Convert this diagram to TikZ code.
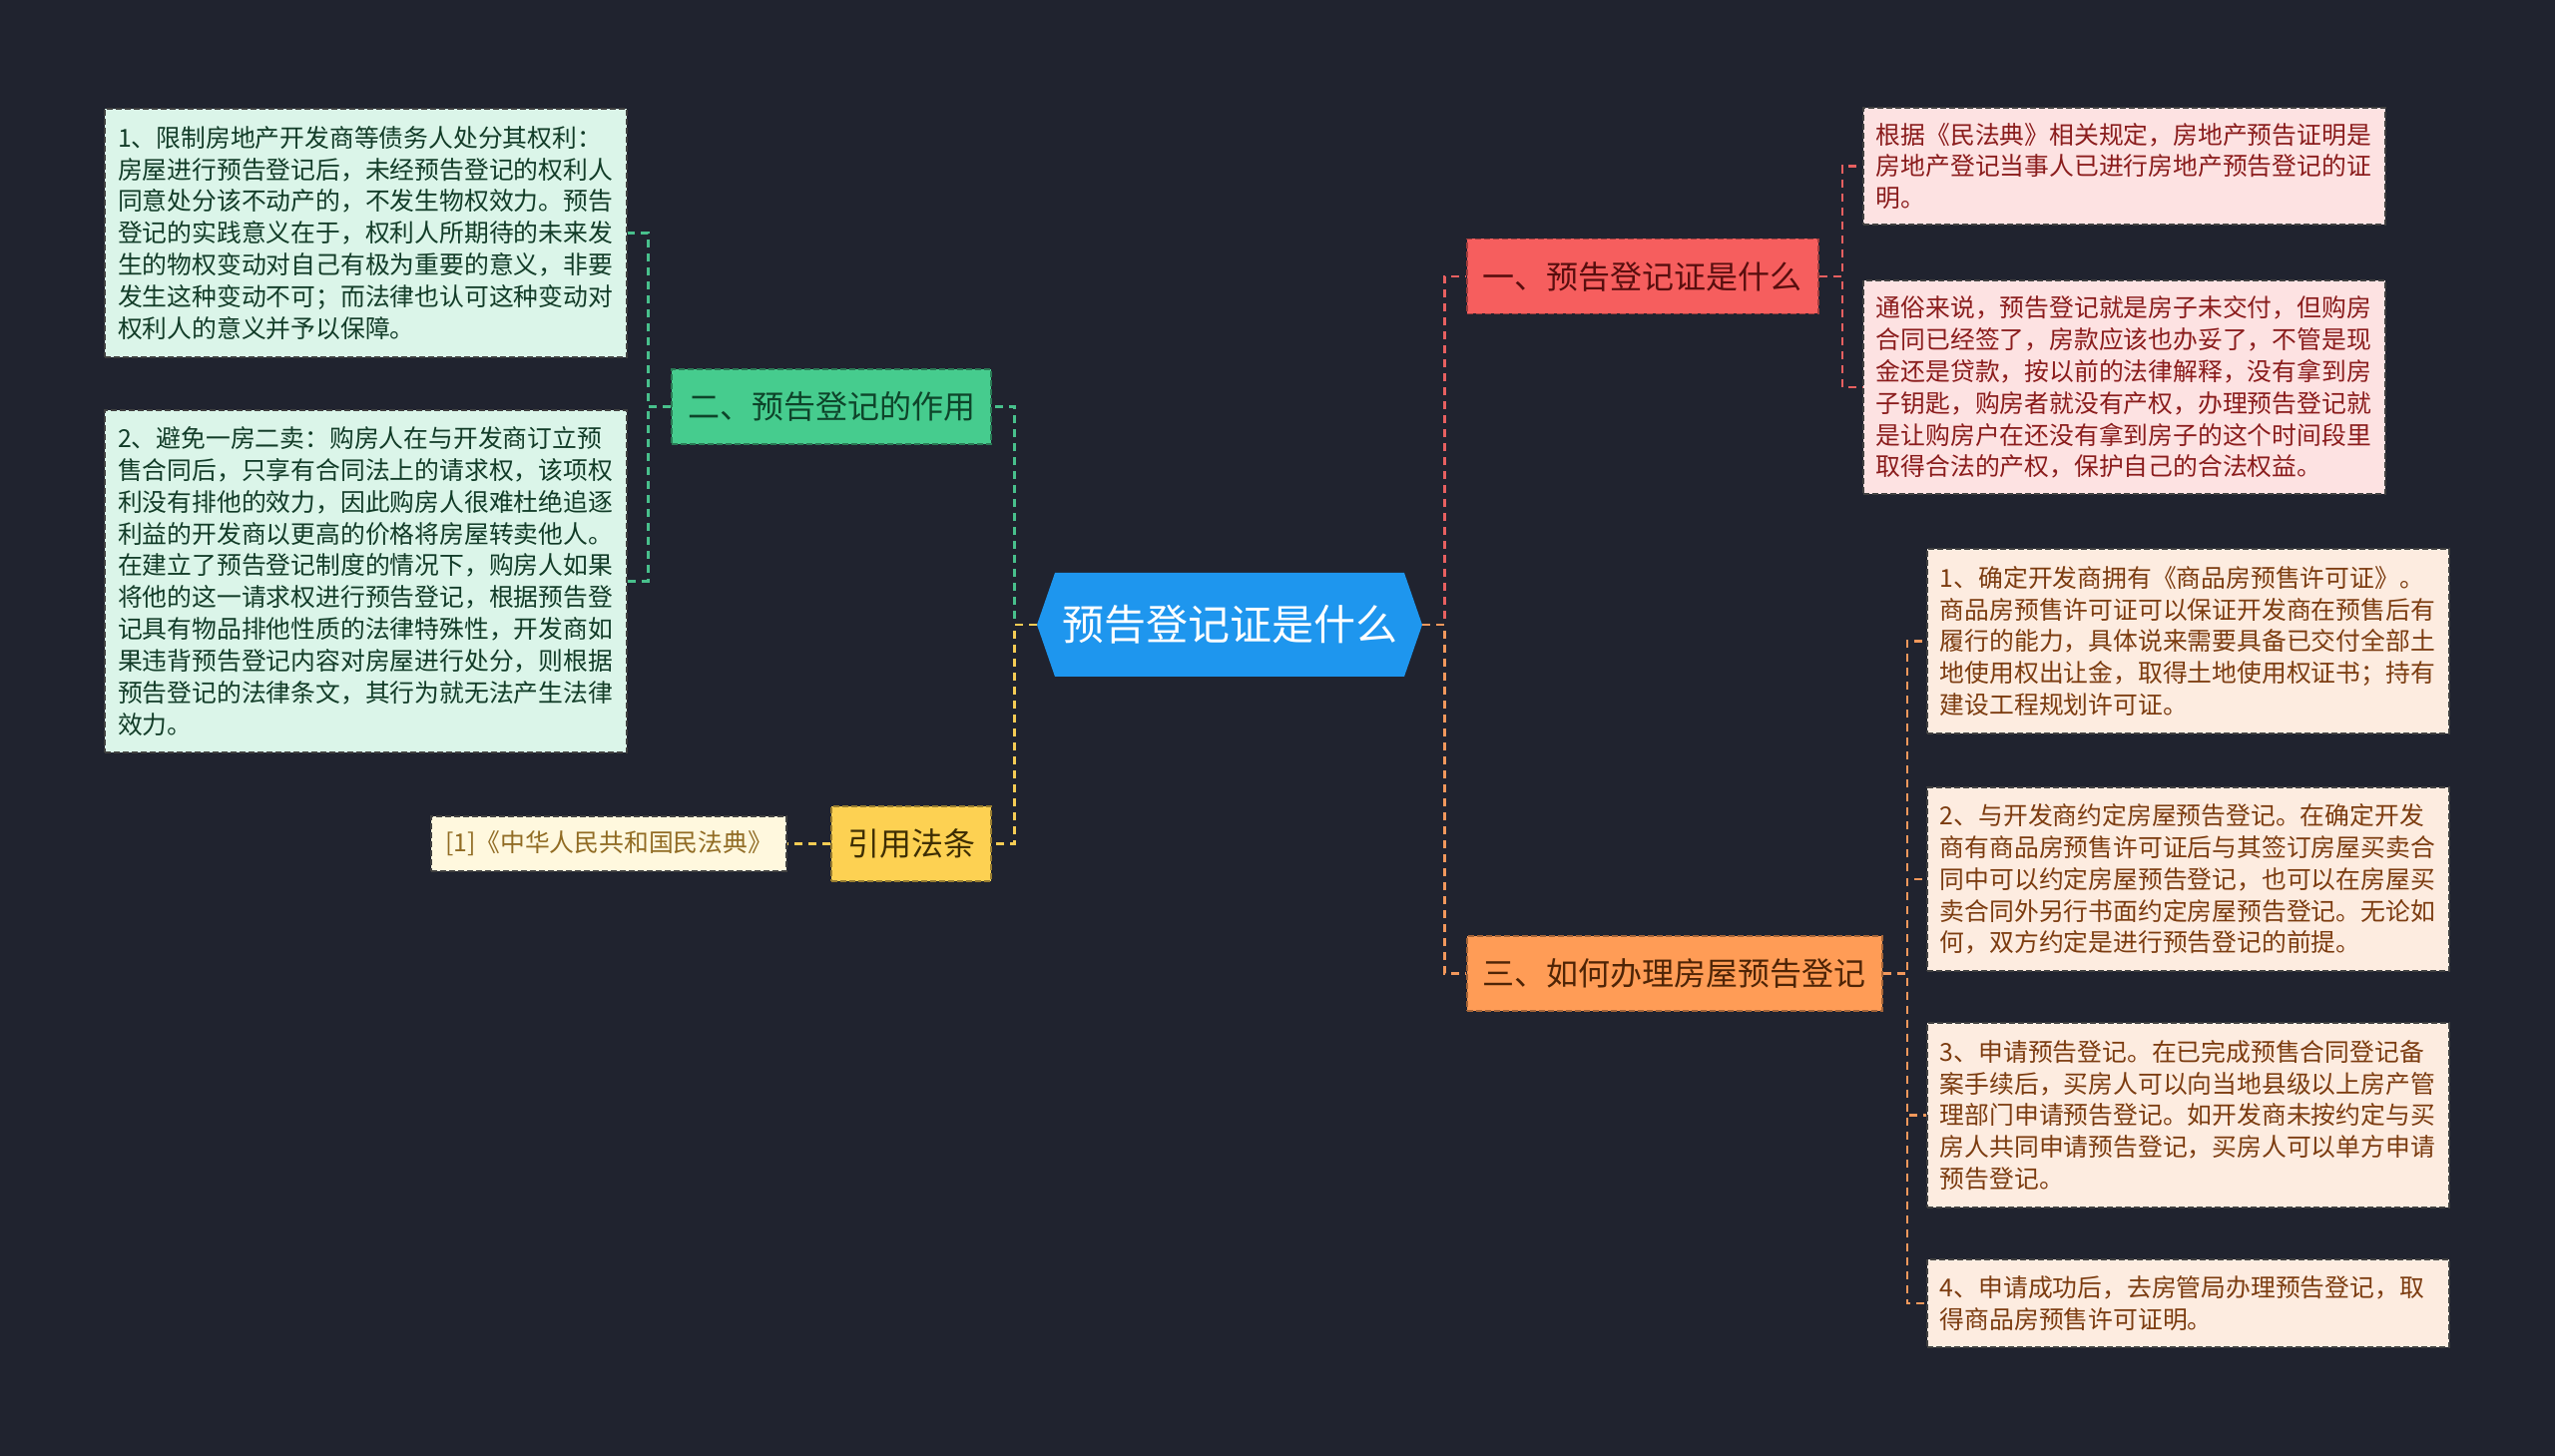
\documentclass[tikz,border=0pt]{standalone}
\usepackage{fontspec}
\setmainfont{Noto Sans CJK SC}
\definecolor{bgdark}{RGB}{32,35,47}
\definecolor{rootblue}{RGB}{30,150,238}
\definecolor{redfill}{RGB}{246,94,94}
\definecolor{redtext}{RGB}{88,14,14}
\definecolor{pinkfill}{RGB}{253,226,226}
\definecolor{pinktext}{RGB}{138,28,28}
\definecolor{greenfill}{RGB}{70,204,142}
\definecolor{greentext}{RGB}{14,68,42}
\definecolor{mintfill}{RGB}{219,245,233}
\definecolor{minttext}{RGB}{18,60,40}
\definecolor{yellowfill}{RGB}{253,209,82}
\definecolor{yellowtext}{RGB}{62,46,4}
\definecolor{creamfill}{RGB}{255,248,222}
\definecolor{creamtext}{RGB}{145,108,36}
\definecolor{orangefill}{RGB}{255,156,86}
\definecolor{orangetext}{RGB}{78,36,6}
\definecolor{peachfill}{RGB}{253,236,224}
\definecolor{peachtext}{RGB}{124,60,16}
\definecolor{greenline}{RGB}{72,192,140}
\definecolor{redline}{RGB}{232,96,96}
\definecolor{yellowline}{RGB}{246,204,84}
\definecolor{orangeline}{RGB}{242,152,92}

\begin{document}
\begin{tikzpicture}[x=0.5pt,y=-0.5pt,
    link/.style={line width=1.3pt,dash pattern=on 4pt off 3pt},
    box/.style={line width=0.9pt,dash pattern=on 3pt off 1.5pt},
    root/.style={minimum width=193pt,minimum height=52pt,inner sep=0pt,text=white,
        font=\fontsize{21}{21}\selectfont,
        path picture={\fill[rootblue] ([xshift=9pt]path picture bounding box.north west)
            -- ([xshift=-9pt]path picture bounding box.north east)
            -- (path picture bounding box.east)
            -- ([xshift=-9pt]path picture bounding box.south east)
            -- ([xshift=9pt]path picture bounding box.south west)
            -- (path picture bounding box.west) -- cycle;}},
    branch/.style={box,inner xsep=8pt,inner ysep=0pt,minimum height=37.5pt,font=\fontsize{16}{16}\selectfont},
    leaf/.style={box,draw=black!75,text width=248.5pt,align=left,inner xsep=6.5pt,inner ysep=0pt,
        font=\fontsize{12.4}{15.95}\selectfont},
]
\useasboundingbox (0,0) rectangle (2560,1459);
\fill[bgdark] (0,0) rectangle (2560,1459);

\node[root](root)at(1232, 626){预告登记证是什么};

\node[branch,anchor=west,fill=redfill,draw=redfill!65!black,text=redtext](b1)at(1469, 277){一、预告登记证是什么};
\node[branch,anchor=east,fill=greenfill,draw=greenfill!60!black,text=greentext](b2)at(994, 407.5){二、预告登记的作用};
\node[branch,anchor=west,fill=orangefill,draw=orangefill!65!black,text=orangetext](b3)at(1469, 975.5){三、如何办理房屋预告登记};
\node[branch,anchor=east,fill=yellowfill,draw=yellowfill!60!black,text=yellowtext](b4)at(994, 845.5){引用法条};

\node[leaf,anchor=east,fill=mintfill,text=minttext,minimum height=124.5pt](l1)at(629, 233.5){%
1、限制房地产开发商等债务人处分其权利：\\
房屋进行预告登记后，未经预告登记的权利人\\
同意处分该不动产的，不发生物权效力。预告\\
登记的实践意义在于，权利人所期待的未来发\\
生的物权变动对自己有极为重要的意义，非要\\
发生这种变动不可；而法律也认可这种变动对\\
权利人的意义并予以保障。};
\node[leaf,anchor=east,fill=mintfill,text=minttext,minimum height=171.5pt](l2)at(629, 582.5){%
2、避免一房二卖：购房人在与开发商订立预\\
售合同后，只享有合同法上的请求权，该项权\\
利没有排他的效力，因此购房人很难杜绝追逐\\
利益的开发商以更高的价格将房屋转卖他人。\\
在建立了预告登记制度的情况下，购房人如果\\
将他的这一请求权进行预告登记，根据预告登\\
记具有物品排他性质的法律特殊性，开发商如\\
果违背预告登记内容对房屋进行处分，则根据\\
预告登记的法律条文，其行为就无法产生法律\\
效力。};
\node[box,draw=black!75,anchor=east,fill=creamfill,text=creamtext,minimum width=178pt,minimum height=27.5pt,
    inner sep=0pt,font=\fontsize{12.4}{15.95}\selectfont](cite)at(789, 845.5){[1]《中华人民共和国民法典》};

\node[leaf,anchor=west,fill=pinkfill,text=pinktext,minimum height=58.5pt](r1)at(1866, 166.5){%
根据《民法典》相关规定，房地产预告证明是\\
房地产登记当事人已进行房地产预告登记的证\\
明。};
\node[leaf,anchor=west,fill=pinkfill,text=pinktext,minimum height=107pt](r2)at(1866, 388){%
通俗来说，预告登记就是房子未交付，但购房\\
合同已经签了，房款应该也办妥了，不管是现\\
金还是贷款，按以前的法律解释，没有拿到房\\
子钥匙，购房者就没有产权，办理预告登记就\\
是让购房户在还没有拿到房子的这个时间段里\\
取得合法的产权，保护自己的合法权益。};

\node[leaf,anchor=west,fill=peachfill,text=peachtext,minimum height=92.5pt](s1)at(1930, 642.5){%
1、确定开发商拥有《商品房预售许可证》。\\
商品房预售许可证可以保证开发商在预售后有\\
履行的能力，具体说来需要具备已交付全部土\\
地使用权出让金，取得土地使用权证书；持有\\
建设工程规划许可证。};
\node[leaf,anchor=west,fill=peachfill,text=peachtext,minimum height=92pt](s2)at(1930, 881){%
2、与开发商约定房屋预告登记。在确定开发\\
商有商品房预售许可证后与其签订房屋买卖合\\
同中可以约定房屋预告登记，也可以在房屋买\\
卖合同外另行书面约定房屋预告登记。无论如\\
何，双方约定是进行预告登记的前提。};
\node[leaf,anchor=west,fill=peachfill,text=peachtext,minimum height=92.5pt](s3)at(1930, 1117.5){%
3、申请预告登记。在已完成预售合同登记备\\
案手续后，买房人可以向当地县级以上房产管\\
理部门申请预告登记。如开发商未按约定与买\\
房人共同申请预告登记，买房人可以单方申请\\
预告登记。};
\node[leaf,anchor=west,fill=peachfill,text=peachtext,minimum height=44pt](s4)at(1930, 1306){%
4、申请成功后，去房管局办理预告登记，取\\
得商品房预售许可证明。};

\draw[link,redline] (root.east) -- ++(11pt,0) |- (b1.west);
\draw[link,orangeline] (root.east) -- ++(11pt,0) |- (b3.west);
\draw[link,greenline] (root.west) -- ++(-11pt,0) |- (b2.east);
\draw[link,yellowline] (root.west) -- ++(-11pt,0) |- (b4.east);

\draw[link,greenline] (b2.west) -- ++(-11.5pt,0) |- (l1.east);
\draw[link,greenline] (b2.west) -- ++(-11.5pt,0) |- (l2.east);
\draw[link,yellowline] (b4.west) -- (cite.east);
\draw[link,redline] (b1.east) -- ++(11.5pt,0) |- (r1.west);
\draw[link,redline] (b1.east) -- ++(11.5pt,0) |- (r2.west);
\foreach \s in {s1,s2,s3,s4}
    \draw[link,orangeline] (b3.east) -- ++(12pt,0) |- (\s.west);
\end{tikzpicture}
\end{document}
